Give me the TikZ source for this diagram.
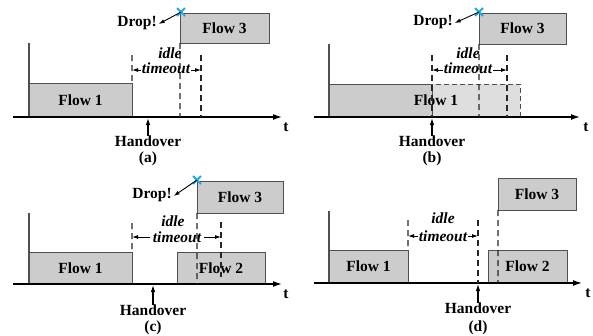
\documentclass[tikz,border=0pt]{standalone}
\usepackage{fontspec}
\setmainfont{Liberation Serif}
\usetikzlibrary{arrows.meta,shapes.misc}
\definecolor{boxgray}{RGB}{204,204,204}
\definecolor{ghostgray}{RGB}{222,222,222}
\definecolor{edgegray}{RGB}{80,80,80}
\definecolor{xblue}{RGB}{30,170,230}
\tikzset{
  every node/.style={font=\fontsize{15.5bp}{18bp}\selectfont\bfseries, inner sep=0pt, outer sep=0pt},
  flowbox/.style={draw=edgegray, fill=boxgray, line width=0.9bp},
  ghostbox/.style={draw=edgegray, fill=ghostgray, line width=0.9bp, dash pattern=on 5bp off 3bp},
  timeaxis/.style={line width=1.4bp, -{Latex[length=9bp,width=6bp]}},
  yaxis/.style={line width=1.1bp, draw=edgegray},
  hoarrow/.style={line width=1.1bp, -{Latex[length=7bp,width=4.5bp]}},
  guide/.style={line width=1.1bp, draw=black!85, dash pattern=on 6bp off 4bp},
  span/.style={line width=0.9bp, {Latex[length=6bp,width=4bp]}-{Latex[length=6bp,width=4bp]}},
  itlabel/.style={font=\fontsize{15.5bp}{18bp}\selectfont\bfseries\itshape, fill=white, inner sep=0.5bp},
  droparrow/.style={line width=0.9bp, -{Latex[length=6bp,width=4bp]}},
  xmark/.style={cross out, draw=xblue, line width=1.8bp, minimum size=8bp},
}
\begin{document}
\begin{tikzpicture}[x=1bp,y=-1bp]
\useasboundingbox (0,0) rectangle (593,335);

% ---------------- panel (a) ----------------
\coordinate (a-o) at (13,117);
\coordinate (a-e) at (282,117);
\coordinate (a-vt) at (29,43);
\coordinate (a-vb) at (29,117);
\node[flowbox, minimum width=103bp, minimum height=34bp] (a-f1) at (80.5,100) {Flow 1};
\node[flowbox, minimum width=89bp, minimum height=30bp] (a-f3) at (224.5,28) {Flow 3};
\draw[yaxis] (a-vt) -- (a-vb);
\draw[timeaxis] (a-o) -- (a-e);
\node (a-t) at (286,127) {t};
\node (a-ho) at (148,141.5) {Handover};
\node (a-cap) at (148,158.5) {(a)};
\coordinate (a-hp) at (148,118);
\draw[hoarrow] (a-ho.north) -- (a-hp);
\coordinate (a-i1) at (132,70);
\coordinate (a-i2) at (201,70);
\draw[span] (a-i1) -- (a-i2);
\node[itlabel] (a-idle) at (170,53) {idle};
\node[itlabel] (a-to) at (166,68) {timeout};
\coordinate (a-g1) at (132,55);
\coordinate (a-g2) at (180,117);
\coordinate (a-g3t) at (201,55);
\coordinate (a-g3b) at (201,117);
\draw[guide] (a-g1) -- (a-f1.north east);
\draw[guide] (a-f3.south west) -- (a-g2);
\draw[guide] (a-g3t) -- (a-g3b);
\node (a-drop) at (137,23) {Drop!};
\node[xmark] (a-x) at (181,12) {};
\draw[droparrow] (a-x.center) -- ([xshift=2bp,yshift=-1bp]a-drop.east);

% ---------------- panel (b) ----------------
\coordinate (b-o) at (314,117);
\coordinate (b-e) at (580,117);
\coordinate (b-vt) at (329,44);
\coordinate (b-vb) at (329,117);
\node[ghostbox, minimum width=88bp, minimum height=33bp] (b-f1x) at (476,100.5) {};
\node[flowbox, minimum width=103bp, minimum height=33bp] (b-f1) at (380.5,100.5) {};
\node (b-f1t) at (436,100) {Flow 1};
\node[flowbox, minimum width=87bp, minimum height=31bp] (b-f3) at (522.5,28.5) {Flow 3};
\draw[yaxis] (b-vt) -- (b-vb);
\draw[timeaxis] (b-o) -- (b-e);
\node (b-t) at (586,127) {t};
\node (b-ho) at (432,141.5) {Handover};
\node (b-cap) at (432,158.5) {(b)};
\coordinate (b-hp) at (432,118);
\draw[hoarrow] (b-ho.north) -- (b-hp);
\coordinate (b-i1) at (432,70);
\coordinate (b-i2) at (507,70);
\draw[span] (b-i1) -- (b-i2);
\node[itlabel] (b-idle) at (468,53) {idle};
\node[itlabel] (b-to) at (468,68) {timeout};
\coordinate (b-g1t) at (432,55);
\coordinate (b-g1b) at (432,117);
\coordinate (b-g2) at (479,117);
\coordinate (b-g3t) at (507,55);
\coordinate (b-g3b) at (507,117);
\draw[guide] (b-g1t) -- (b-g1b);
\draw[guide] (b-f3.south west) -- (b-g2);
\draw[guide] (b-g3t) -- (b-g3b);
\node (b-drop) at (433,22) {Drop!};
\node[xmark] (b-x) at (479,12) {};
\draw[droparrow] (b-x.center) -- ([xshift=2bp,yshift=-1bp]b-drop.east);

% ---------------- panel (c) ----------------
\coordinate (c-o) at (13,284);
\coordinate (c-e) at (282,284);
\coordinate (c-vt) at (29,213);
\coordinate (c-vb) at (29,284);
\node[flowbox, minimum width=103bp, minimum height=32bp] (c-f1) at (80.5,268) {Flow 1};
\node[flowbox, minimum width=88bp, minimum height=32bp] (c-f2) at (221,268) {Flow 2};
\node[flowbox, minimum width=86bp, minimum height=32bp] (c-f3) at (240,197) {Flow 3};
\draw[yaxis] (c-vt) -- (c-vb);
\draw[timeaxis] (c-o) -- (c-e);
\node (c-t) at (286,294) {t};
\node (c-ho) at (153,310.5) {Handover};
\node (c-cap) at (153,327.5) {(c)};
\coordinate (c-hp) at (153,285);
\draw[hoarrow] (c-ho.north) -- (c-hp);
\coordinate (c-i1) at (132,237);
\coordinate (c-i2) at (221,237);
\draw[span] (c-i1) -- (c-i2);
\node[itlabel] (c-idle) at (173,221) {idle};
\node[itlabel, inner xsep=3bp] (c-to) at (177,237) {timeout};
\coordinate (c-g1) at (132,223);
\coordinate (c-g2) at (197,284);
\coordinate (c-g3t) at (221,222);
\coordinate (c-g3b) at (221,277);
\draw[guide] (c-g1) -- (c-f1.north east);
\draw[guide] (c-f3.south west) -- (c-g2);
\draw[guide] (c-g3t) -- (c-g3b);
\node (c-drop) at (152,195) {Drop!};
\node[xmark] (c-x) at (197,180) {};
\draw[droparrow] (c-x.center) -- ([xshift=2bp,yshift=-1bp]c-drop.east);

% ---------------- panel (d) ----------------
\coordinate (d-o) at (314,283);
\coordinate (d-e) at (582,283);
\coordinate (d-vt) at (329,211);
\coordinate (d-vb) at (329,283);
\node[flowbox, minimum width=79bp, minimum height=33bp] (d-f1) at (368.5,266.5) {Flow 1};
\node[flowbox, minimum width=79bp, minimum height=33bp] (d-f2) at (527.5,266.5) {Flow 2};
\node[flowbox, minimum width=78bp, minimum height=32bp] (d-f3) at (537,194) {Flow 3};
\draw[yaxis] (d-vt) -- (d-vb);
\draw[timeaxis] (d-o) -- (d-e);
\node (d-t) at (588,293) {t};
\node (d-ho) at (478,308.5) {Handover};
\node (d-cap) at (478,327.5) {(d)};
\coordinate (d-hp) at (478,284);
\draw[hoarrow] (d-ho.north) -- (d-hp);
\coordinate (d-i1) at (408,236);
\coordinate (d-i2) at (478,236);
\draw[span] (d-i1) -- (d-i2);
\node[itlabel] (d-idle) at (443,218) {idle};
\node[itlabel] (d-to) at (443,236) {timeout};
\coordinate (d-g1) at (408,220);
\coordinate (d-g2t) at (478,220);
\coordinate (d-g2b) at (478,283);
\coordinate (d-g3) at (498,283);
\draw[guide] (d-g1) -- (d-f1.north east);
\draw[guide] (d-g2t) -- (d-g2b);
\draw[guide] (d-f3.south west) -- (d-g3);
\end{tikzpicture}
\end{document}
